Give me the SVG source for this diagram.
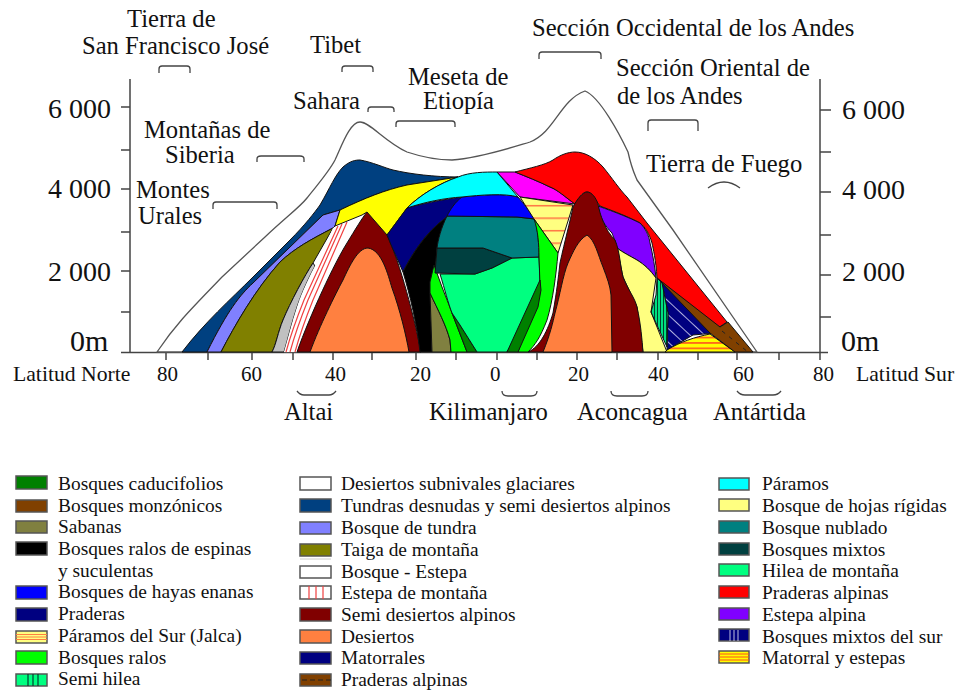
<svg xmlns="http://www.w3.org/2000/svg" width="956" height="692" viewBox="0 0 956 692">
<style>
text{font-family:"Liberation Serif","Times New Roman",serif;fill:#111}
.l{font-size:24.6px}.y{font-size:28px}.z{font-size:30px}.n{font-size:21px}.lat{font-size:21.7px}.g{font-size:19.4px}
.ax{stroke:#444;stroke-width:1.5;fill:none}
.br{stroke:#444;stroke-width:1.3;fill:none}
.r{stroke:#111;stroke-width:1;stroke-linejoin:round}
.s{stroke:#555;stroke-width:1.5}
</style>
<defs>
<pattern id="jalca" patternUnits="userSpaceOnUse" width="8" height="12.5" y="3"><rect width="8" height="12.5" fill="#ffff80"/><rect y="2" width="8" height="1.4" fill="#ff6a40"/></pattern>
<pattern id="mat" patternUnits="userSpaceOnUse" width="8" height="5.4" y="1"><rect width="8" height="5.4" fill="#ffff00"/><rect y="1" width="8" height="1.5" fill="#ff5020"/></pattern>
<pattern id="sur" patternUnits="userSpaceOnUse" width="10" height="10" patternTransform="rotate(43)"><rect width="10" height="10" fill="#000080"/><rect y="4" width="10" height="1" fill="#b0b0e0"/></pattern>
<pattern id="hil" patternUnits="userSpaceOnUse" width="3" height="8"><rect width="3" height="8" fill="#00e080"/><rect width="1" height="8" fill="#004030"/></pattern>
</defs>

<g id="axes" class="ax">
<path d="M130 79V352M121 107H130M121 150H130M121 189H130M121 232H130M121 271H130M121 312H130"/>
<path d="M820 79V352M820 110H831M820 152H831M820 192H831M820 235H831M820 275H831M820 317H831"/>
<path d="M121 352.5H828"/>
<path d="M166 352v8M208 352v8M252 352v8M293 352v8M333 352v8M372 352v8M416 352v8M456 352v8M497 352v8M537 352v8M577 352v8M617 352v8M658 352v8M698 352v8M737 352v8M779 352v8M820 352v8"/>
</g>

<g id="regions">
<path id="desiertos-glaciares" d="M157 352C175 325 190 310 222 277L265 237C285 218 300 207 307 198C320 182 330 170 335 160C342 145 350 122 360 122C370 122 385 142 407 152C425 158 440 160 452 160C480 158 510 148 530 142C555 132 560 100 585 91C600 97 620 135 628 152C632 170 635 175 637 180L673 230L757 352Z" fill="#fff" stroke="#555" stroke-width="1.3" stroke-linejoin="round"/>
<path id="tundra" class="r" d="M182 352C205 322 230 300 253 277L290 240C305 225 315 212 320 205C330 188 335 175 343 167C350 161 355 160 360 160C372 162 385 168 393 170C410 174 435 177 458 177L407 185C385 190 365 198 340 210L323 215L253 283C240 295 228 310 207 352Z" fill="#004080"/>
<path id="bosque-tundra" class="r" d="M207 352C228 310 240 295 253 283L323 215L340 210L335 226L333 228C310 240 295 248 280 262C255 290 235 325 221 352Z" fill="#8080ff"/>
<path id="taiga" class="r" d="M221 352C235 325 255 290 280 262C295 248 310 240 333 228L313 263C305 275 290 303 283 320C278 332 276 345 272 352Z" fill="#808000"/>
<path id="bosque-estepa-gris" class="r" d="M272 352C276 345 278 332 283 320C290 303 305 275 313 263L315 266C305 285 300 298 297 307C292 322 288 338 284 352Z" fill="#c0c0c0"/>
<path id="bosque-estepa" d="M284 352C288 338 292 322 297 307C300 298 305 285 315 266L333 228L362 215L350 232L297 352Z" fill="#fff"/>
<g id="estepa-montana" fill="none" stroke="#f04040" stroke-width="1.2">
<path d="M286 352C292 330 298 315 304 300L338 226"/><path d="M290 352C296 330 302 315 308 300L342 224"/><path d="M295 352C301 330 307 315 313 300L347 222"/>
</g>
<path id="semi-desiertos-norte" class="r" d="M297 352C310 315 335 262 347 243C355 230 362 218 367 212C375 220 383 228 387 235C400 262 415 320 421 352Z" fill="#800000"/>
<path id="desiertos-norte" class="r" d="M310 352C320 325 335 295 343 280C350 265 358 248 368 248C382 250 388 275 392 288C400 310 406 335 409 352Z" fill="#ff8040"/>
<path id="yermo-amarillo" class="r" d="M458 177C440 183 420 195 407 208L387 235L367 212L362 215L335 226L340 210C365 198 385 190 407 185Z" fill="#ffff00"/>
<path id="matorrales" class="r" d="M462 197C440 200 420 204 407 208L387 235C392 248 398 260 403 272C410 258 425 232 447 217Z" fill="#000080"/>
<path id="bosques-ralos-espinas" class="r" d="M447 217C425 232 410 258 403 272C410 295 417 325 420 352H432L430 293V282L435 273L437 248Z" fill="#000"/>
<path id="sabanas" class="r" d="M430 293C438 310 446 325 450 340L451 352H432Z" fill="#808040"/>
<path id="bosques-ralos-izq" class="r" d="M434 265L430 282V293C438 310 446 325 450 340L451 352H467L452 313C448 302 445 295 442 287Z" fill="#00ff00"/>
<path id="caducifolios-izq" class="r" d="M452 313L467 352H477L460 325Z" fill="#008000"/>
<path id="hilea" class="r" d="M440 274C445 290 448 303 452 313L460 325L477 352H507L537 300C541 290 541 284 540 280L539 257L512 258L492 268L475 274Z" fill="#00ff80"/>
<path id="bosques-mixtos" class="r" d="M437 248L435 273L475 274L492 268L512 258L483 248Z" fill="#004040"/>
<path id="bosque-nublado" class="r" d="M447 216C441 228 438 240 437 248H483L512 258L539 257C539 245 538 230 535 219L517 217Z" fill="#008080"/>
<path id="hayas-enanas" class="r" d="M462 197C455 202 450 210 447 216L517 217L535 219C530 212 525 205 518 197C505 193 480 195 462 197Z" fill="#0000ff"/>
<path id="paramos" class="r" d="M407 208C425 202 445 198 462 197C480 195 505 193 518 197L497 172C485 172 470 172 458 177C440 183 420 195 407 208Z" fill="#00ffff"/>
<path id="magenta" class="r" d="M497 172H515C525 176 540 182 550 187C558 190 565 197 575 204L520 197Z" fill="#ff00ff"/>
<path id="praderas-alpinas-rojo" class="r" d="M515 172C530 168 545 165 553 160C560 155 568 152 575 152C585 152 595 158 603 167C612 178 620 190 627 197L647 223L727 322L718 328L657 278C656 260 653 248 652 243C649 233 645 227 640 223C625 215 610 210 600 206C595 200 592 192 587 192C582 192 578 200 575 204C565 197 558 190 550 187C540 182 525 176 515 172Z" fill="#ff0000"/>
<path id="estepa-alpina" class="r" d="M598 206C615 212 630 218 640 223C645 228 649 235 650 243C653 255 655 268 656 278C650 270 645 265 637 260C630 256 622 252 617 248C615 240 613 236 612 233C605 226 600 218 598 206Z" fill="#8000ff"/>
<path id="bosque-rigidas" class="r" d="M617 248C622 252 630 256 637 260C645 265 650 270 656 278L651 312L667 352H643L637 307L623 277Z" fill="#ffff80"/>
<path id="jalca-region" class="r" d="M520 197L573 205L558 253L534 219Z" fill="url(#jalca)"/>
<path id="bosques-ralos-der" class="r" d="M534 219L558 253C556 275 553 300 547 320C540 338 535 345 528 352H518L540 285L539 257C539 245 538 230 534 219Z" fill="#00ff00"/>
<path id="caducifolios-der" class="r" d="M540 280L541 290L538 307L518 352H507Z" fill="#008000"/>
<path id="semi-desiertos-sur" class="r" d="M528 352C540 347 548 330 553 313C557 290 558 280 560 263C565 240 570 222 573 207C577 199 583 192 587 192C592 192 596 198 598 204C600 215 605 230 615 240C620 252 620 265 623 277C628 290 635 298 637 307C641 325 642 340 643 352Z" fill="#800000"/>
<path id="desiertos-sur" class="r" d="M543 352C550 335 553 322 555 313C560 295 563 275 568 263C573 252 578 240 587 235C595 240 598 255 603 267C607 278 610 285 611 295L612 352Z" fill="#ff8040"/>
<path id="bosques-mixtos-sur" class="r" d="M662 283L715 333L693 335L667 350L668 313Z" fill="url(#sur)"/>
<path id="semi-hilea" class="r" d="M657 278L662 283L668 313L667 347L651 312L656 295Z" fill="url(#hil)"/>
<path id="matorral-estepas" class="r" d="M665 352L667 350C680 342 695 337 710 334L735 352Z" fill="url(#mat)"/>
<path id="monzonicos" class="r" d="M657 278L720 327L728 322L753 352H735L710 333L662 283Z" fill="#804000"/>
<path id="monzonicos-trazos" d="M722 331L748 352" fill="none" stroke="#222" stroke-width="1" stroke-dasharray="4 5"/>
</g>

<g id="connectors" class="br">
<path d="M159 73v-4q0-3 3-3h25q3 0 3 3v4"/>
<path d="M257 162v-3q0-3 4-3h39q4 0 4 3v3"/>
<path d="M213 209v-4q0-3 3-3h58q3 0 3 3v4"/>
<path d="M342 72v-3q0-3 3-3h25q3 0 3 3v3"/>
<path d="M368 112v-2q0-3 3-3h20q3 0 3 3v2"/>
<path d="M396 127v-3q0-3 3-3h53q3 0 3 3v3"/>
<path d="M539 59v-4q0-3 3-3h56q3 0 3 3v4"/>
<path d="M648 131v-8q0-3 3-3h44q3 0 3 3v8"/>
<path d="M708 188q16-12 32 0"/>
<path d="M297 391q3 4 7 4h25q4 0 7-4"/>
<path d="M502 391q0 5 6 5h23q6 0 6-5"/>
<path d="M611 391q0 5 6 5h25q6 0 6-5"/>
<path d="M737 391q3 4 8 4h28q5 0 8-4"/>
</g>

<g id="axis-labels">
<text class="y" x="48" y="118">6 000</text><text class="y" x="48" y="198">4 000</text><text class="y" x="48" y="281">2 000</text><text class="z" x="70" y="351">0m</text>
<text class="y" x="842" y="119">6 000</text><text class="y" x="842" y="199">4 000</text><text class="y" x="842" y="281">2 000</text><text class="z" x="841" y="351">0m</text>
<text class="lat" x="13" y="381">Latitud Norte</text><text class="lat" x="856" y="381">Latitud Sur</text>
<text class="n" x="157" y="381">80</text><text class="n" x="241" y="381">60</text><text class="n" x="325" y="381">40</text><text class="n" x="410" y="381">20</text><text class="n" x="490" y="381">0</text><text class="n" x="568" y="381">20</text><text class="n" x="648" y="381">40</text><text class="n" x="733" y="381">60</text><text class="n" x="813" y="381">80</text>
</g>

<g id="labels">
<text class="l" x="127" y="27">Tierra de</text><text class="l" x="82" y="54">San Francisco José</text>
<text class="l" x="310" y="53">Tibet</text>
<text class="l" x="408" y="85">Meseta de</text><text class="l" x="423" y="109">Etiopía</text>
<text class="l" x="293" y="109">Sahara</text>
<text class="l" x="532" y="36">Sección Occidental de los Andes</text>
<text class="l" x="616" y="76">Sección Oriental de</text><text class="l" x="617" y="104">de los Andes</text>
<text class="l" x="646" y="172">Tierra de Fuego</text>
<text class="l" x="144" y="138">Montañas de</text><text class="l" x="165" y="163">Siberia</text>
<text class="l" x="136" y="198">Montes</text><text class="l" x="138" y="224">Urales</text>
<text class="l" x="284" y="420">Altai</text><text class="l" x="429" y="420">Kilimanjaro</text><text class="l" x="577" y="420">Aconcagua</text><text class="l" x="713" y="420">Antártida</text>
</g>

<g id="legend-1">
<rect class="s" x="16" y="476" width="31" height="13" fill="#008000"/><text class="g" x="58" y="490">Bosques caducifolios</text>
<rect class="s" x="16" y="500" width="31" height="12" fill="#804000"/><text class="g" x="58" y="512">Bosques monzónicos</text>
<rect class="s" x="16" y="521" width="31" height="12" fill="#808040"/><text class="g" x="58" y="533">Sabanas</text>
<rect class="s" x="16" y="542" width="31" height="13" fill="#000"/><text class="g" x="58" y="555">Bosques ralos de espinas</text><text class="g" x="58" y="577">y suculentas</text>
<rect class="s" x="16" y="586" width="31" height="13" fill="#0000ff"/><text class="g" x="58" y="598">Bosques de hayas enanas</text>
<rect class="s" x="16" y="608" width="31" height="13" fill="#000080"/><text class="g" x="58" y="620">Praderas</text>
<rect class="s" x="16" y="631" width="31" height="12" fill="#ffff80"/><path d="M16 634.5H47M16 637H47M16 639.5H47" stroke="#ff8040" stroke-width="1.2"/><text class="g" x="58" y="642">Páramos del Sur (Jalca)</text>
<rect class="s" x="16" y="651" width="31" height="13" fill="#00ff00"/><text class="g" x="58" y="664">Bosques ralos</text>
<rect class="s" x="16" y="674" width="31" height="12" fill="#00ff80"/><path d="M28 674v12M33 674v12M38 674v12" stroke="#004030" stroke-width="1.2"/><text class="g" x="58" y="685">Semi hilea</text>
</g>

<g id="legend-2">
<rect class="s" x="300" y="477" width="31" height="13" fill="#fff"/><text class="g" x="341" y="490">Desiertos subnivales glaciares</text>
<rect class="s" x="300" y="499" width="31" height="13" fill="#004080"/><text class="g" x="341" y="512">Tundras desnudas y semi desiertos alpinos</text>
<rect class="s" x="300" y="522" width="31" height="12" fill="#8080ff"/><text class="g" x="341" y="534">Bosque de tundra</text>
<rect class="s" x="300" y="544" width="31" height="12" fill="#808000"/><path d="M300 559H331" stroke="#ccc" stroke-width="1"/><text class="g" x="341" y="556">Taiga de montaña</text>
<rect class="s" x="300" y="566" width="31" height="12" fill="#fff"/><text class="g" x="341" y="578">Bosque - Estepa</text>
<rect class="s" x="300" y="586" width="31" height="13" fill="#fff"/><path d="M309 586v13M316 586v13M323 586v13" stroke="#f04040" stroke-width="1.2"/><text class="g" x="341" y="599">Estepa de montaña</text>
<rect class="s" x="300" y="608" width="31" height="13" fill="#800000"/><text class="g" x="341" y="621">Semi desiertos alpinos</text>
<rect class="s" x="300" y="630" width="31" height="13" fill="#ff8040"/><text class="g" x="341" y="643">Desiertos</text>
<rect class="s" x="300" y="652" width="31" height="12" fill="#000080"/><text class="g" x="341" y="664">Matorrales</text>
<rect class="s" x="300" y="674" width="31" height="12" fill="#804000"/><path d="M302 680H331" stroke="#222" stroke-width="1.2" stroke-dasharray="5 3"/><text class="g" x="341" y="686">Praderas alpinas</text>
</g>

<g id="legend-3">
<rect class="s" x="719" y="478" width="30" height="12" fill="#00ffff"/><text class="g" x="762" y="490">Páramos</text>
<rect class="s" x="719" y="499" width="30" height="12" fill="#ffff80"/><text class="g" x="762" y="512">Bosque de hojas rígidas</text>
<rect class="s" x="719" y="521" width="30" height="12" fill="#008080"/><text class="g" x="762" y="534">Bosque nublado</text>
<rect class="s" x="719" y="543" width="30" height="12" fill="#004040"/><text class="g" x="762" y="556">Bosques mixtos</text>
<rect class="s" x="719" y="564" width="30" height="12" fill="#00ff80"/><text class="g" x="762" y="577">Hilea de montaña</text>
<rect class="s" x="719" y="586" width="30" height="12" fill="#ff0000"/><text class="g" x="762" y="599">Praderas alpinas</text>
<rect class="s" x="719" y="608" width="30" height="12" fill="#8000ff"/><text class="g" x="762" y="621">Estepa alpina</text>
<rect class="s" x="719" y="629" width="30" height="12" fill="#000080"/><path d="M730 630v11M734 630v11M738 630v11" stroke="#c0c0e0" stroke-width="1"/><text class="g" x="762" y="643">Bosques mixtos del sur</text>
<rect class="s" x="719" y="651" width="30" height="12" fill="#ffff00"/><path d="M719 654H749M719 657H749M719 660H749" stroke="#ff5020" stroke-width="1.2"/><text class="g" x="762" y="664">Matorral y estepas</text>
</g>
</svg>
